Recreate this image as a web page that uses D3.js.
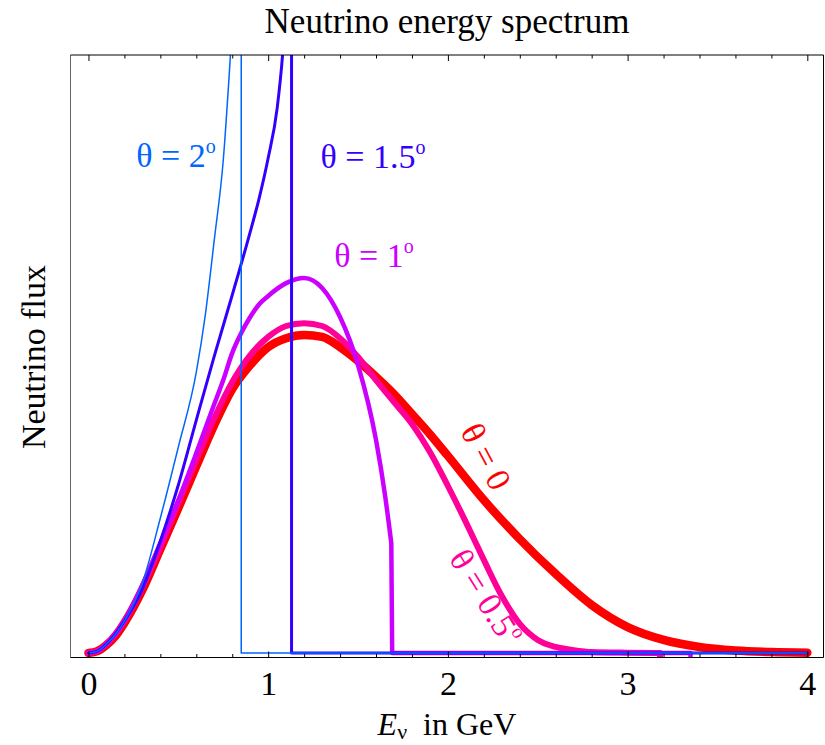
<!DOCTYPE html>
<html>
<head>
<meta charset="utf-8">
<script src="https://cdn.jsdelivr.net/npm/d3@7"></script>
<style>
body { margin: 0; background: #fff; }
text { font-family: "Liberation Serif", "Times New Roman", serif; }
</style>
</head>
<body>
<svg id="chart" width="825" height="745"></svg>
<script>
// energy in GeV, flux in arbitrary units
const majorTicks = [0, 1, 2, 3, 4];
const minorTicks = d3.range(0, 4.01, 0.2).filter(v => Math.abs(v - Math.round(v)) > 0.01);

const theta0 = [[0,0],[0.05,0.6],[0.1,2.5],[0.15,5.3],[0.2,9.4],[0.3,19.7],[0.4,32.5],[0.5,45.3],[0.6,58.4],[0.7,71.3],[0.8,82.5],[0.9,90],[1,95.6],[1.1,98.4],[1.2,99.4],[1.3,98.8],[1.4,95.6],[1.5,91.3],[1.6,86.3],[1.7,80.9],[1.8,74.7],[1.9,68.4],[2,61.6],[2.2,47.8],[2.4,35.6],[2.6,24.7],[2.8,15],[3,8.1],[3.2,4.1],[3.4,1.9],[3.6,0.8],[3.8,0.3],[4,0.1]];
const theta05 = [[0,0],[0.05,0.6],[0.1,2.8],[0.2,10],[0.3,20.6],[0.4,33.1],[0.5,46.9],[0.6,60.3],[0.7,73.4],[0.8,84.7],[0.9,93.1],[1,98.8],[1.1,102.2],[1.2,103.1],[1.3,102.2],[1.4,98.4],[1.5,92.5],[1.6,85.3],[1.7,78.4],[1.8,71.6],[1.9,62.8],[2,52.2],[2.1,40.9],[2.2,29.1],[2.3,17.8],[2.4,9.1],[2.5,4.1],[2.6,1.9],[2.7,0.9],[2.8,0.3],[3,0.1],[3.18,0]];
const theta1 = [[0,0],[0.05,0.6],[0.1,2.8],[0.2,10],[0.3,21.3],[0.4,34.4],[0.5,47.8],[0.6,62.5],[0.7,77.8],[0.75,85.3],[0.8,93.8],[0.85,100],[0.9,105],[0.95,109],[1,111.6],[1.1,115.6],[1.2,117.2],[1.3,114.1],[1.4,105],[1.5,90],[1.6,66.6],[1.65,49.4],[1.685,34.4]];
const theta15 = [[0,0],[0.05,0.6],[0.1,2.8],[0.2,10],[0.3,20],[0.4,35],[0.5,52.5],[0.6,72.8],[0.7,92.8],[0.8,111.9],[0.9,131.6],[0.95,142.2],[1,154.7],[1.05,170.3],[1.08,186.9],[1.1,204],[1.12,240]];
const theta2 = [[0,0],[0.05,0.6],[0.1,2.8],[0.2,10],[0.3,21.9],[0.4,42.2],[0.5,64.4],[0.6,87.8],[0.65,105.6],[0.7,129.1],[0.75,154],[0.79,186.9],[0.82,215]];

// straight pieces after each smooth part (cut-offs, zero tails)
const tail0 = [];
const tail05 = [[3.18,0],[3.18,-4]];
const tail1 = [[1.69,0],[3.35,0],[3.35,-4]];
const tail15 = [[1.13,260],[1.13,0],[4,0]];
const tail2 = [[0.85,260],[0.85,0],[4,0]];

const series = [
	{ pts: theta0, tail: tail0, color: 'rgb(255,0,0)', w: 8.5 },
	{ pts: theta05, tail: tail05, color: 'rgb(255,0,153)', w: 6 },
	{ pts: theta1, tail: tail1, color: 'rgb(204,0,255)', w: 4.5 },
	{ pts: theta15, tail: tail15, color: 'rgb(51,0,255)', w: 3 },
	{ pts: theta2, tail: tail2, color: 'rgb(0,102,255)', w: 1.5 },
];

const svg = d3.select('#chart');
const m = { left: 70.5, right: 823.5, top: 55, bottom: 657.5 };

const x = d3.scaleLinear().domain([-0.1, 4.09]).range([m.left, m.right]);
const y = d3.scaleLinear().domain([-1.4, 186.9]).range([m.bottom, m.top]);

svg.append('defs').append('clipPath').attr('id', 'plotclip')
	.append('rect').attr('x', m.left).attr('y', m.top)
	.attr('width', m.right - m.left).attr('height', m.bottom - m.top);

const smooth = d3.line().x(d => x(d[0])).y(d => y(d[1])).curve(d3.curveMonotoneX);
const straight = d3.line().x(d => x(d[0])).y(d => y(d[1]));

const plot = svg.append('g').attr('clip-path', 'url(#plotclip)');
series.forEach(s => {
	let p = smooth(s.pts);
	if (s.tail.length) p += straight(s.tail).replace(/^M/, 'L');
	plot.append('path')
		.attr('d', p)
		.attr('fill', 'none')
		.attr('stroke', s.color)
		.attr('stroke-width', s.w)
		.attr('stroke-linecap', 'round')
		.attr('stroke-linejoin', 'round');
});

// frame
const frameLine = (x1, y1, x2, y2, c) => svg.append('line')
	.attr('x1', x1).attr('y1', y1).attr('x2', x2).attr('y2', y2)
	.attr('stroke', c).attr('stroke-width', 1);
frameLine(m.left, m.top, m.left, m.bottom, '#666');
frameLine(m.right, m.top, m.right, m.bottom, '#000');
frameLine(m.left, m.top, m.right, m.top, '#000');
frameLine(m.left, m.bottom, m.right, m.bottom, '#000');

// ticks, inward on top and bottom
const addAxis = (axis, ty) => {
	const g = svg.append('g').attr('transform', `translate(0,${ty})`).call(axis);
	g.select('.domain').remove();
	g.selectAll('line').attr('stroke', '#000');
	return g;
};
const xb = addAxis(d3.axisBottom(x).tickValues(majorTicks).tickSize(-6).tickFormat(d3.format('d')), m.bottom);
addAxis(d3.axisBottom(x).tickValues(minorTicks).tickSize(-3.5).tickFormat(''), m.bottom);
addAxis(d3.axisTop(x).tickValues(majorTicks).tickSize(-6).tickFormat(''), m.top);
addAxis(d3.axisTop(x).tickValues(minorTicks).tickSize(-3.5).tickFormat(''), m.top);
xb.selectAll('text')
	.attr('y', 37.5).attr('dy', null)
	.attr('font-family', '"Liberation Serif", "Times New Roman", serif')
	.attr('font-size', 34).attr('fill', '#000');

// titles
svg.append('text').attr('x', (m.left + m.right) / 2).attr('y', 33)
	.attr('text-anchor', 'middle').attr('font-size', 35)
	.text('Neutrino energy spectrum');

svg.append('text').attr('transform', 'translate(45,357) rotate(-90)')
	.attr('text-anchor', 'middle').attr('font-size', 34)
	.text('Neutrino flux');

const xl = svg.append('text').attr('x', (m.left + m.right) / 2).attr('y', 735)
	.attr('text-anchor', 'middle').attr('font-size', 32);
xl.append('tspan').attr('font-style', 'italic').text('E');
xl.append('tspan').attr('font-size', 22).attr('dy', 4).text('ν');
xl.append('tspan').attr('dy', -4).text('\u2002in GeV');

// curve labels
const label = (txt, sup, color, tx, ty, rot) => {
	const t = svg.append('text')
		.attr('transform', `translate(${tx},${ty}) rotate(${rot})`)
		.attr('text-anchor', 'middle').attr('font-size', 34).attr('fill', color);
	t.append('tspan').text(txt);
	if (sup) t.append('tspan').attr('font-size', 20).attr('dy', -14).text(sup);
};
label('θ = 2', 'o', 'rgb(0,102,255)', 176, 167, 0);
label('θ = 1.5', 'o', 'rgb(51,0,255)', 373, 168, 0);
label('θ = 1', 'o', 'rgb(204,0,255)', 374, 267, 0);
label('θ = 0', '', 'rgb(255,0,0)', 476, 462, 62);
label('θ = 0.5', 'o', 'rgb(255,0,153)', 476, 603, 58);
</script>
</body>
</html>
